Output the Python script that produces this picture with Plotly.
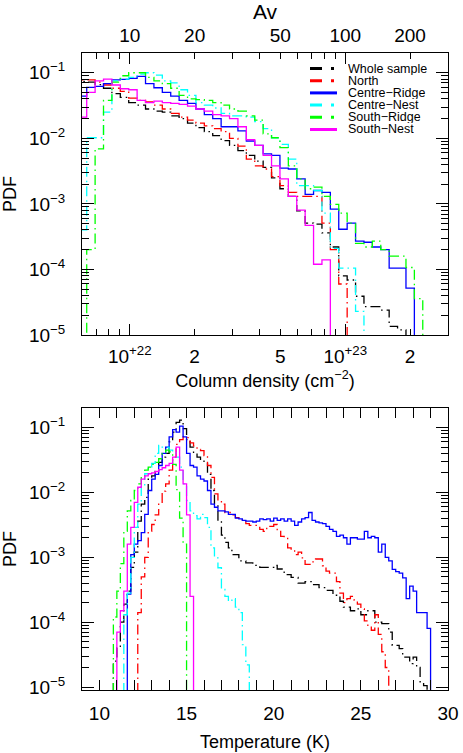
import numpy as np
import plotly.graph_objects as go

# ---------------------------------------------------------------------------
# Top panel: column density PDFs, regular bins in log10(N)
nh_log_first_edge = 21.761
nh_log_bin_width = 0.039
nh_nbins = 44

nh_whole = [0.074, 0.072, 0.066, 0.058, 0.048, 0.042, 0.035, 0.032, 0.028, 0.026,
            0.025, 0.022, 0.020, 0.017, 0.0145, 0.0126, 0.011, 0.0092, 0.0078, 0.0065,
            0.0055, 0.0045, 0.0036, 0.0025, 0.0017, 0.0013, 0.00078, 0.00051, 0.00049, 0.00036,
            0.00022, 8e-5, 6.9e-5, 3.9e-5, 2.7e-5, 2.7e-5, 2.4e-5, 1.35e-5, 1.2e-5, 0,
            0, 0, 0, 0]
nh_north = [0.078, 0.078, 0.072, 0.065, 0.058, 0.052, 0.041, 0.038, 0.036, 0.032,
            0.028, 0.024, 0.021, 0.019, 0.017, 0.0155, 0.014, 0.0126, 0.010, 0.0076,
            0.0048, 0.0038, 0.0034, 0.0026, 0.0019, 0.0015, 0.0013, 0.0013, 0.0013, 0.00051,
            0.0002, 6e-5, 0, 0, 0, 0, 0, 0, 0, 0,
            0, 0, 0, 0]
nh_cridge = [0.044, 0.060, 0.062, 0.068, 0.078, 0.079, 0.082, 0.088, 0.068, 0.059,
             0.050, 0.044, 0.038, 0.034, 0.028, 0.023, 0.020, 0.015, 0.015, 0.013,
             0.0091, 0.0078, 0.0058, 0.0055, 0.0035, 0.0034, 0.0024, 0.0014, 0.0016, 0.0015,
             0.00083, 0.00041, 0.00051, 0.00027, 0.00026, 0.00022, 0.0002, 0.000105, 0.000105, 5.2e-5,
             0, 0, 0, 0]
nh_cnest = [0.0004, 0.0102, 0.0102, 0.025, 0.075, 0.080, 0.085, 0.095, 0.100, 0.092,
            0.075, 0.070, 0.055, 0.045, 0.035, 0.032, 0.029, 0.024, 0.022, 0.022,
            0.021, 0.018, 0.014, 0.0102, 0.0081, 0.0048, 0.0019, 0.0019, 0.0016, 0.00072,
            0.00021, 0.000105, 0.000105, 2.3e-5, 0, 0, 0, 0, 0, 0,
            0, 0, 0, 0]
nh_sridge = [0, 0.0002, 0.0069, 0.038, 0.072, 0.090, 0.100, 0.100, 0.085, 0.075,
             0.068, 0.058, 0.045, 0.040, 0.039, 0.038, 0.035, 0.032, 0.028, 0.026,
             0.022, 0.019, 0.0117, 0.0102, 0.0072, 0.0038, 0.0024, 0.0017, 0.0018, 0.0013,
             0.00098, 0.00072, 0.00051, 0.00025, 0.00022, 0.00027, 0.0002, 0.00016, 0.00016, 0.000107,
             3.6e-5, 0, 0, 0]
nh_snest = [0.021, 0.050, 0.075, 0.080, 0.065, 0.057, 0.055, 0.038, 0.035, 0.037,
            0.035, 0.034, 0.033, 0.031, 0.028, 0.026, 0.023, 0.022, 0.020, 0.015,
            0.0095, 0.0078, 0.0055, 0.0038, 0.0024, 0.0013, 0.0008, 0.00047, 0.00012, 0.00014,
            0, 0, 0, 0, 0, 0, 0, 0, 0, 0,
            0, 0, 0, 0]

nh_range = [6e21, 3e23]
nh_ticks = [1e22, 2e22, 5e22, 1e23, 2e23]
nh_ticktext = ["10<sup>+22</sup>", "2", "5", "10<sup>+23</sup>", "2"]
nh_minor = [6e21, 7e21, 8e21, 9e21, 3e22, 4e22, 6e22, 7e22, 8e22, 9e22, 3e23]
nh_decades = [1e22, 1e23]
av_range = [6, 300]
av_ticks = [10, 20, 50, 100, 200]

# ---------------------------------------------------------------------------
# Bottom panel: temperature PDFs, 0.2 K bins, each series from its first bin
temp_bin_width = 0.2
temp_range = [9, 30]

temp_whole_start = 10.8
temp_whole = [2.5e-5, 4e-5, 0.0001, 0.00019, 0.0003, 0.0007, 0.0012, 0.0036, 0.0066, 0.0084,
              0.016, 0.018, 0.021, 0.029, 0.035, 0.040, 0.060, 0.085, 0.12, 0.13,
              0.096, 0.065, 0.050, 0.040, 0.035, 0.031, 0.029, 0.019, 0.0107, 0.0066,
              0.0036, 0.0022, 0.0017, 0.0014, 0.0011, 0.0011, 0.00088, 0.00088, 0.00082, 0.00082,
              0.00075, 0.00071, 0.0007, 0.0007, 0.0007, 0.0007, 0.00075, 0.00066, 0.00066, 0.00054,
              0.00054, 0.00049, 0.00049, 0.0004, 0.0004, 0.00042, 0.00042, 0.00038, 0.00038, 0.00034,
              0.00034, 0.00031, 0.00031, 0.00026, 0.00026, 0.00021, 0.00017, 0.00017, 0.00015, 0.00015,
              0.00016, 0.00013, 0.00013, 0.00015, 0.00015, 0.0001, 0.0001, 9.5e-5, 9.5e-5, 7e-5,
              4.4e-5, 4.4e-5, 3.9e-5, 2.9e-5, 2.9e-5, 2.3e-5, 2.9e-5, 2e-5, 1.2e-5, 1.05e-5]

temp_north_start = 12.2
temp_north = [0.00014, 0.0005, 0.001, 0.0025, 0.0032, 0.0045, 0.0066, 0.0105, 0.0135, 0.022,
              0.035, 0.055, 0.065, 0.072, 0.070, 0.058, 0.052, 0.046, 0.044, 0.037,
              0.026, 0.017, 0.0095, 0.0075, 0.0066, 0.0049, 0.0049, 0.0045, 0.0041, 0.0039,
              0.0036, 0.0033, 0.0031, 0.0031, 0.0029, 0.0027, 0.0025, 0.003, 0.003, 0.0032,
              0.0026, 0.0021, 0.002, 0.0014, 0.0013, 0.0011, 0.0012, 0.00098, 0.00078, 0.00078,
              0.00085, 0.00094, 0.00094, 0.00074, 0.00061, 0.00057, 0.00057, 0.00042, 0.00028, 0.0002,
              0.00023, 0.00025, 0.00022, 0.00019, 0.00016, 0.000105, 8.9e-5, 7.5e-5, 0.00013, 6.5e-5,
              3.5e-5, 2e-5]

temp_cridge_start = 11.6
temp_cridge = [0.00027, 0.0011, 0.0016, 0.0018, 0.0024, 0.0046, 0.0107, 0.016, 0.019, 0.026,
               0.040, 0.050, 0.072, 0.093, 0.085, 0.105, 0.072, 0.040, 0.026, 0.0245,
               0.018, 0.016, 0.015, 0.0107, 0.0066, 0.0059, 0.0052, 0.0052, 0.0050, 0.0046,
               0.0046, 0.0040, 0.0039, 0.0037, 0.0036, 0.0036, 0.0035, 0.0036, 0.0039, 0.0038,
               0.0039, 0.0036, 0.0040, 0.0037, 0.0039, 0.0036, 0.0039, 0.0036, 0.0031, 0.0035,
               0.0039, 0.0041, 0.0049, 0.0037, 0.0035, 0.0034, 0.0033, 0.0030, 0.0027, 0.0025,
               0.0021, 0.0022, 0.0020, 0.0016, 0.0020, 0.0020, 0.0019, 0.0019, 0.0025, 0.0020,
               0.0021, 0.0020, 0.0012, 0.0016, 0.0010, 0.00088, 0.00065, 0.0006, 0.00057, 0.00048,
               0.00023, 0.00036, 0.00030, 0.00014, 0.00014, 0.00014, 8e-5]

temp_cnest_start = 11.4
temp_cnest = [0.00013, 0.00028, 0.0010, 0.0029, 0.0066, 0.0127, 0.0194, 0.0245, 0.028, 0.040,
              0.053, 0.050, 0.050, 0.045, 0.042, 0.035, 0.0245, 0.0135, 0.0075, 0.0052,
              0.0044, 0.0039, 0.0046, 0.0041, 0.0029, 0.0014, 0.00098, 0.00069, 0.00032, 0.00025,
              0.00021, 0.00023, 0.00017, 0.00014, 4.5e-5, 2.2e-5]

temp_sridge_start = 10.8
temp_sridge = [0.00012, 0.0003, 0.0008, 0.0025, 0.0052, 0.0075, 0.0107, 0.0135, 0.018, 0.022,
               0.0245, 0.027, 0.029, 0.033, 0.040, 0.045, 0.042, 0.027, 0.011, 0.0040,
               0.0016]

temp_snest_start = 11.0
temp_snest = [7e-5, 0.00015, 0.0003, 0.0016, 0.0029, 0.007, 0.012, 0.016, 0.018, 0.0194,
              0.020, 0.021, 0.0225, 0.024, 0.026, 0.028, 0.035, 0.050, 0.022, 0.0135,
              0.0045, 0.00025]

series_names = ["Whole sample", "North", "Centre\u2212Ridge", "Centre\u2212Nest",
                "South\u2212Ridge", "South\u2212Nest"]
series_colors = ["#000000", "#ff0000", "#0000ff", "#00ffff", "#00ff00", "#ff00ff"]
series_dashed = [True, True, False, True, True, False]

# ---------------------------------------------------------------------------
FONT = "Liberation Sans, Arial, Helvetica, sans-serif"
W, H = 463, 753
ML, MR, MT, MB = 82, 15, 53, 63
DATA_DASH = "10px,4px,1.5px,4px"
FLOOR = 1e-9


def step_xy(edges, values):
    # histogram outline that starts and ends on the floor
    xs = [edges[0]] + list(edges)
    ys = [FLOOR] + [v if v > 0 else FLOOR for v in values] + [FLOOR]
    return xs, ys


def temp_edges(start, n):
    return [round(start + temp_bin_width * i, 3) for i in range(n + 1)]


nh_edges = [10 ** (nh_log_first_edge + nh_log_bin_width * k) for k in range(nh_nbins + 1)]
nh_series = [nh_whole, nh_north, nh_cridge, nh_cnest, nh_sridge, nh_snest]
temp_series = [(temp_whole_start, temp_whole), (temp_north_start, temp_north),
               (temp_cridge_start, temp_cridge), (temp_cnest_start, temp_cnest),
               (temp_sridge_start, temp_sridge), (temp_snest_start, temp_snest)]

fig = go.Figure()

for name, color, dashed, vals in zip(series_names, series_colors, series_dashed, nh_series):
    xs, ys = step_xy(nh_edges, vals)
    fig.add_trace(go.Scatter(x=xs, y=ys, mode="lines", name=name, showlegend=False,
                             line=dict(color=color, width=1.3, shape="hv",
                                       dash=DATA_DASH if dashed else "solid"),
                             xaxis="x", yaxis="y"))

for name, color, dashed, (t0, vals) in zip(series_names, series_colors, series_dashed, temp_series):
    xs, ys = step_xy(temp_edges(t0, len(vals)), vals)
    fig.add_trace(go.Scatter(x=xs, y=ys, mode="lines", name=name, showlegend=False,
                             line=dict(color=color, width=1.3, shape="hv",
                                       dash=DATA_DASH if dashed else "solid"),
                             xaxis="x2", yaxis="y2"))

# empty traces so the overlay axes (Av scale, long decade ticks) get drawn
fig.add_trace(go.Scatter(x=[], y=[], xaxis="x3", yaxis="y", showlegend=False, hoverinfo="skip"))
fig.add_trace(go.Scatter(x=[], y=[], xaxis="x4", yaxis="y", showlegend=False, hoverinfo="skip"))

tick_font = dict(family=FONT, size=19, color="black")
title_font = dict(family=FONT, size=18, color="black")

common = dict(showline=True, linecolor="black", linewidth=1, mirror="ticks",
              ticks="inside", tickcolor="black", tickwidth=1, showgrid=False,
              zeroline=False, automargin=False, tickfont=tick_font)

pdf_decades = [1e-5, 1e-4, 1e-3, 1e-2, 1e-1]
pdf_ticktext = ["10<sup>\u22125</sup>", "10<sup>\u22124</sup>", "10<sup>\u22123</sup>",
                "10<sup>\u22122</sup>", "10<sup>\u22121</sup>"]
pdf_minor = [k * 10.0 ** e for e in range(-6, 0) for k in range(2, 10)]

top_dom = [1 - 282 / 637, 1]
bot_dom = [0, 282 / 637]

fig.update_layout(
    width=W, height=H,
    margin=dict(l=ML, r=MR, t=MT, b=MB),
    paper_bgcolor="white", plot_bgcolor="white",
    showlegend=False,
    font=dict(family=FONT, color="black"),
    xaxis=dict(common, type="log", anchor="y", domain=[0, 1],
               range=[np.log10(nh_range[0]), np.log10(nh_range[1])],
               tickmode="array", tickvals=nh_ticks, ticktext=nh_ticktext, ticklen=6,
               ticklabelstandoff=4,
               minor=dict(tickmode="array", tickvals=nh_minor, ticks="inside",
                          ticklen=6, tickcolor="black"),
               title=dict(text="Column density (cm<sup>\u22122</sup>)", font=title_font, standoff=8)),
    xaxis4=dict(common, type="log", anchor="y", overlaying="x",
                range=[np.log10(nh_range[0]), np.log10(nh_range[1])],
                tickmode="array", tickvals=nh_decades, ticklen=11, showticklabels=False),
    xaxis3=dict(type="log", anchor="y", overlaying="x", side="top",
                range=[np.log10(av_range[0]), np.log10(av_range[1])],
                tickmode="array", tickvals=av_ticks, ticktext=[str(v) for v in av_ticks],
                ticks="", showline=False, showgrid=False, zeroline=False, automargin=False,
                tickfont=tick_font, ticklabelstandoff=6,
                title=dict(text="Av", font=dict(family=FONT, size=21, color="black"), standoff=4)),
    yaxis=dict(common, type="log", anchor="x", domain=top_dom,
               range=[np.log10(1e-5), np.log10(0.2)],
               tickmode="array", tickvals=pdf_decades, ticktext=pdf_ticktext, ticklen=12,
               ticklabelstandoff=12,
               minor=dict(tickmode="array", tickvals=pdf_minor, ticks="inside",
                          ticklen=7, tickcolor="black"),
               title=dict(text="PDF", font=title_font, standoff=10)),
    xaxis2=dict(common, anchor="y2", domain=[0, 1], range=temp_range,
                tickmode="array", tickvals=[10, 15, 20, 25, 30], ticklen=10,
                ticklabelstandoff=6,
                minor=dict(dtick=1, tick0=10, ticks="inside", ticklen=10, tickcolor="black"),
                title=dict(text="Temperature (K)", font=title_font, standoff=12)),
    yaxis2=dict(common, type="log", anchor="x2", domain=bot_dom,
                range=[np.log10(9e-6), np.log10(0.2)],
                tickmode="array", tickvals=pdf_decades, ticktext=pdf_ticktext, ticklen=12,
                ticklabelstandoff=12,
                minor=dict(tickmode="array", tickvals=pdf_minor, ticks="inside",
                           ticklen=7, tickcolor="black"),
                title=dict(text="PDF", font=title_font, standoff=10)),
)

# legend drawn by hand inside the top panel (rows are tighter than plotly's legend allows)
plot_w = W - ML - MR
plot_h = H - MT - MB


def px_to_paper(px, py):
    return (px - ML) / plot_w, 1 - (py - MT) / plot_h


legend_row0 = 68.5
legend_row_gap = 12.2
for i, (name, color, dashed) in enumerate(zip(series_names, series_colors, series_dashed)):
    py = legend_row0 + i * legend_row_gap
    x0, y0 = px_to_paper(310, py)
    x1, _ = px_to_paper(337, py)
    xt, _ = px_to_paper(346, py)
    fig.add_shape(type="line", xref="paper", yref="paper", x0=x0, x1=x1, y0=y0, y1=y0,
                  line=dict(color=color, width=3, dash="12px,9px,3px,20px" if dashed else "solid"))
    fig.add_annotation(xref="paper", yref="paper", x=xt, y=y0, text=name, showarrow=False,
                       xanchor="left", yanchor="middle", height=12, valign="middle",
                       font=dict(family=FONT, size=12.5, color="black"))

# the page body has a default 8px margin; remove it so the figure sits at the window origin
fig.write_html("out.html",
               config={"displayModeBar": False},
               post_script="document.body.style.margin='0px';"
                           "document.documentElement.style.overflow='hidden';")
